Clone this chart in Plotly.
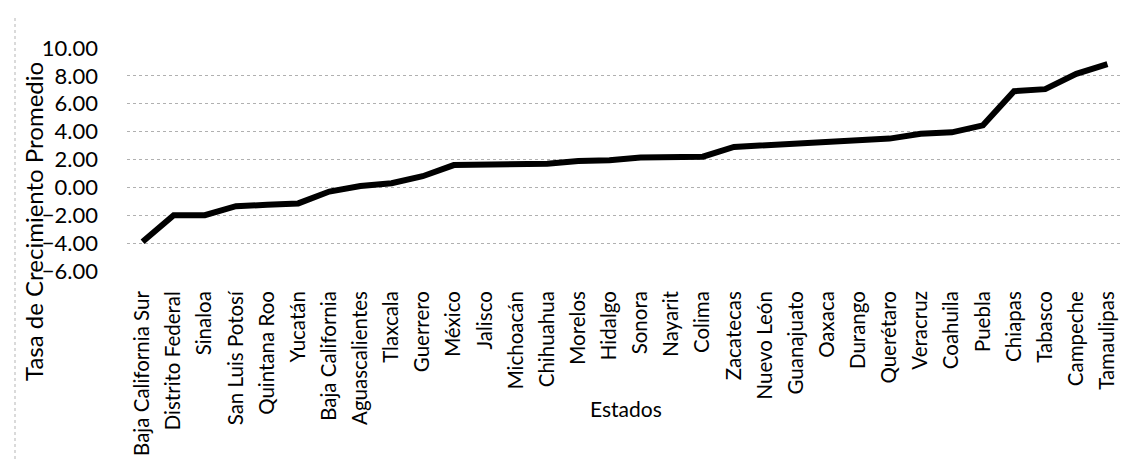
import plotly.graph_objects as go

estados = ["Baja California Sur", "Distrito Federal", "Sinaloa", "San Luis Potosí",
           "Quintana Roo", "Yucatán", "Baja California", "Aguascalientes", "Tlaxcala",
           "Guerrero", "México", "Jalisco", "Michoacán", "Chihuahua", "Morelos",
           "Hidalgo", "Sonora", "Nayarit", "Colima", "Zacatecas", "Nuevo León",
           "Guanajuato", "Oaxaca", "Durango", "Querétaro", "Veracruz", "Coahuila",
           "Puebla", "Chiapas", "Tabasco", "Campeche", "Tamaulipas"]
tasa = [-3.9, -2.0, -2.0, -1.35, -1.25, -1.15, -0.3, 0.1, 0.3, 0.8,
        1.6, 1.6, 1.65, 1.7, 1.9, 1.95, 2.15, 2.2, 2.2, 2.9,
        3.0, 3.1, 3.3, 3.35, 3.5, 3.85, 3.95, 4.45, 6.9, 7.05,
        8.15, 8.85]
y_ticks = [-6, -4, -2, 0, 2, 4, 6, 8, 10]

FONT = "Lato, Open Sans, sans-serif"
W_PLOT = 996
H_PLOT = 223

fig = go.Figure(go.Scatter(
    x=estados, y=tasa, mode="lines",
    line=dict(color="black", width=6),
    showlegend=False,
))

fig.update_layout(
    width=1130, height=459,
    margin=dict(l=119, r=15, t=40, b=196, autoexpand=False),
    paper_bgcolor="white", plot_bgcolor="white",
    font=dict(family=FONT, color="black"),
    xaxis=dict(
        range=[-0.5, len(estados) - 0.5],
        tickangle=-90, tickfont=dict(size=20.5, color="black"),
        showgrid=False, showline=False, ticks="", ticklabelstandoff=15,
        automargin=False,
    ),
    yaxis=dict(
        range=[-6, 10], tickvals=y_ticks, tickformat=".2f",
        tickfont=dict(size=22, color="black"),
        showgrid=True, gridcolor="#b0b0b0", griddash="dot", gridwidth=1,
        zeroline=False, showline=False, ticks="", ticklabelstandoff=28,
        automargin=False,
    ),
    shapes=[
        dict(type="line", xref="paper", yref="paper",
             x0=(7 - 119) / W_PLOT, x1=(7 - 119) / W_PLOT,
             y0=(263 - 10) / H_PLOT, y1=(263 - 459) / H_PLOT,
             line=dict(color="#b5b5b5", width=1, dash="dot")),
    ],
    annotations=[
        dict(text="Tasa de Crecimiento Promedio", xref="paper", yref="paper",
             x=(25 - 119) / W_PLOT, y=(263 - 214) / H_PLOT, xanchor="center",
             yanchor="middle", textangle=-90, showarrow=False,
             font=dict(size=24, family=FONT)),
        dict(text="Estados", xref="paper", yref="paper",
             x=(618 - 119) / W_PLOT, y=(263 - 400) / H_PLOT, xanchor="center",
             yanchor="middle", showarrow=False, font=dict(size=21, family=FONT)),
    ],
)

fig.write_html("out.html")
